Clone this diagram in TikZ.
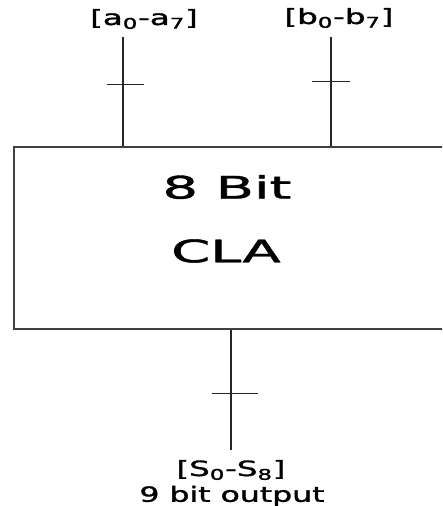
\documentclass[tikz,border=0pt]{standalone}
\usepackage{fontspec}
\setmainfont{DejaVu Sans}
\newfontfamily\heavyfont{DejaVu Sans}[FakeBold=1.2]
\begin{document}
\begin{tikzpicture}[x=1pt,y=-1pt,
  wire/.style={line width=1.6pt,draw=black!85},
  tickmark/.style={line width=1pt,draw=black!85},
  blockbox/.style={draw=black!75,line width=1.6pt,rectangle,inner sep=0pt},
  bigtext/.style={inner sep=0pt,font=\heavyfont\fontsize{31}{31}\selectfont,text=black},
  lbl/.style={inner sep=0pt,font=\heavyfont\fontsize{21}{21}\selectfont,text=black}]
\useasboundingbox (0,0) rectangle (442,506);
\clip (0,0) rectangle (442,506);
% block
\node[blockbox,minimum width=440pt,minimum height=182pt] (cla) at (234,238) {};
\node[bigtext] (t1) at (227,187) {\scalebox{1.8}[1]{8 Bit}};
\node[bigtext] (t2) at (226,251) {\scalebox{1.8}[1]{CLA}};
% labels
\node[lbl] (la) at (144,19) {\scalebox{1.55}[1]{[a\textsubscript{0}-a\textsubscript{7}]}};
\node[lbl] (lb) at (339,18) {\scalebox{1.55}[1]{[b\textsubscript{0}-b\textsubscript{7}]}};
\node[lbl] (ls) at (231,470) {\scalebox{1.55}[1]{[S\textsubscript{0}-S\textsubscript{8}]}};
\node[lbl] (lo) at (232,496) {\scalebox{1.5}[1]{9 bit output}};
% wire ends
\coordinate (ina) at (123,37);
\coordinate (inb) at (331,37);
\coordinate (outs) at (231,450);
\draw[wire] (ina) -- (ina |- cla.north);
\draw[wire] (inb) -- (inb |- cla.north);
\draw[wire] (outs |- cla.south) -- (outs);
% bus ticks
\coordinate (ta) at (125.5,84);
\coordinate (tb) at (331,81);
\coordinate (ts) at (235,393);
\draw[tickmark] ([xshift=-18.5pt]ta) -- ([xshift=18.5pt]ta);
\draw[tickmark] ([xshift=-19pt]tb) -- ([xshift=19pt]tb);
\draw[tickmark] ([xshift=-23pt]ts) -- ([xshift=23pt]ts);
\end{tikzpicture}
\end{document}
